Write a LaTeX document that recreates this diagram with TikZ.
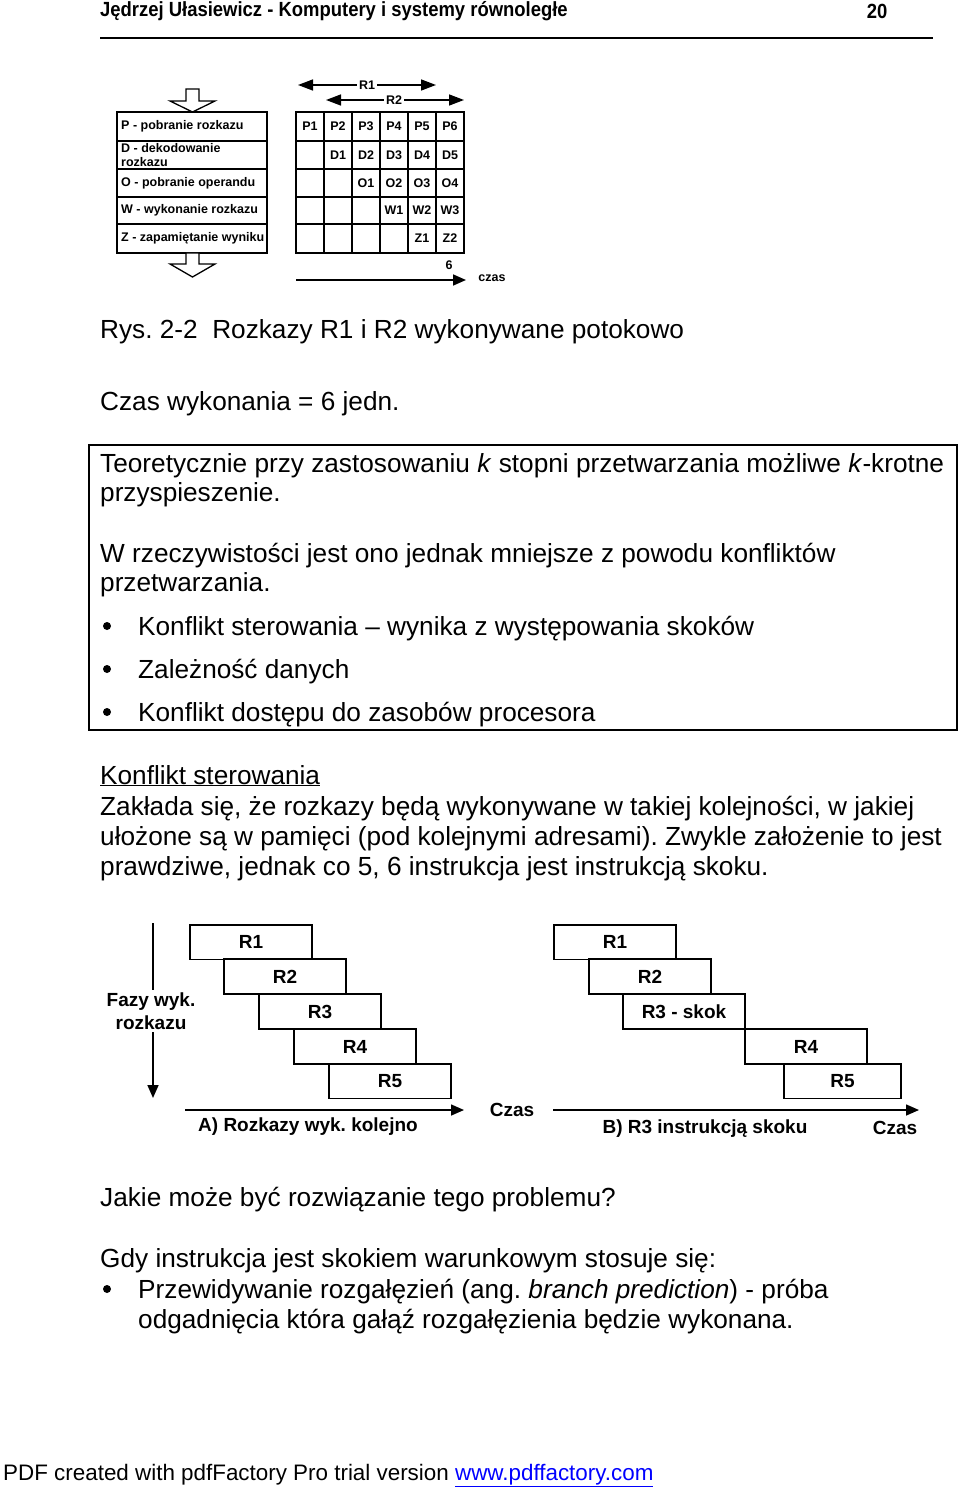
\documentclass[tikz,border=0pt]{standalone}
\usepackage{fontspec}
\usepackage{graphicx}
\setmainfont{Liberation Sans}
\usetikzlibrary{arrows.meta}
\frenchspacing
\begin{document}
\begin{tikzpicture}[x=1pt,y=-1pt,
  body/.style={anchor=base west, inner sep=0pt, font=\fontsize{26.2}{30}\selectfont},
  small/.style={inner sep=0pt, font=\bfseries\fontsize{12.5}{14}\selectfont},
  lab/.style={inner sep=0pt, font=\bfseries\fontsize{19}{22}\selectfont},
  gridline/.style={line width=1.8pt},
  pbox/.style={draw, line width=1.8pt, minimum width=122pt, minimum height=34.8pt, inner sep=0pt, font=\bfseries\fontsize{19}{22}\selectfont},
  tipline/.style={-{Triangle[length=13pt,width=11pt]}, line width=1.6pt},
  dtipline/.style={{Triangle[length=15pt,width=11pt]}-{Triangle[length=15pt,width=11pt]}, line width=1.5pt},
  bul/.style={circle, fill=black, inner sep=0pt, minimum size=8pt},
  hollow/.style={draw, line width=1.3pt, fill=white}
]
\useasboundingbox (0,0) rectangle (960,1487);

% ---------- header ----------
\node[anchor=west, inner sep=0pt, font=\bfseries\fontsize{20.5}{24}\selectfont] (hdr) at (100,11)
  {\scalebox{0.9}[1]{Jędrzej Ułasiewicz - Komputery i systemy równoległe}};
\node[inner sep=0pt, font=\bfseries\fontsize{20.5}{24}\selectfont] (pg) at (877,11) {\scalebox{0.9}[1]{20}};
\draw[line width=1.3pt] (100,38) -- (933,38);

% ---------- top figure: stage table ----------
\draw[gridline] (117,112) rectangle (267,253);
\foreach \yy in {141,169,197,224} \draw[gridline] (117,\yy) -- (267,\yy);
\node[small, anchor=west] (sP) at (121,126.5) {P - pobranie rozkazu};
\node[small, anchor=west, align=left, font=\bfseries\fontsize{12.5}{14}\selectfont] (sD) at (121,155) {D - dekodowanie\\rozkazu};
\node[small, anchor=west] (sO) at (121,183) {O - pobranie operandu};
\node[small, anchor=west] (sW) at (121,210.5) {W - wykonanie rozkazu};
\node[small, anchor=west] (sZ) at (121,238.5) {Z - zapamiętanie wyniku};

% hollow arrows
\draw[hollow] (186,89) -- (199,89) -- (199,101) -- (215,101) -- (192.5,112) -- (170,101) -- (186,101) -- cycle;
\draw[hollow] (186,253) -- (199,253) -- (199,264) -- (215,264) -- (192.5,277) -- (170,264) -- (186,264) -- cycle;

% grid
\draw[gridline] (296,112) rectangle (464,253);
\foreach \yy in {141,169,197,224} \draw[gridline] (296,\yy) -- (464,\yy);
\foreach \xx in {324,352,380,408,436} \draw[gridline] (\xx,112) -- (\xx,253);

\node[small] (c11) at (310,126.5) {P1};
\node[small] (c12) at (338,126.5) {P2};
\node[small] (c13) at (366,126.5) {P3};
\node[small] (c14) at (394,126.5) {P4};
\node[small] (c15) at (422,126.5) {P5};
\node[small] (c16) at (450,126.5) {P6};
\node[small] (c22) at (338,155) {D1};
\node[small] (c23) at (366,155) {D2};
\node[small] (c24) at (394,155) {D3};
\node[small] (c25) at (422,155) {D4};
\node[small] (c26) at (450,155) {D5};
\node[small] (c33) at (366,183) {O1};
\node[small] (c34) at (394,183) {O2};
\node[small] (c35) at (422,183) {O3};
\node[small] (c36) at (450,183) {O4};
\node[small] (c44) at (394,210.5) {W1};
\node[small] (c45) at (422,210.5) {W2};
\node[small] (c46) at (450,210.5) {W3};
\node[small] (c55) at (422,238.5) {Z1};
\node[small] (c56) at (450,238.5) {Z2};

% R1 / R2 spans
\coordinate (r1a) at (298,85);
\coordinate (r1b) at (436,85);
\coordinate (r2a) at (326,100);
\coordinate (r2b) at (464,100);
\draw[dtipline] (r1a) -- (r1b);
\draw[dtipline] (r2a) -- (r2b);
\node[small, fill=white, inner xsep=2pt, inner ysep=1pt] (lr1) at (367,85) {R1};
\node[small, fill=white, inner xsep=2pt, inner ysep=1pt] (lr2) at (394,100) {R2};

% time axis
\coordinate (ta) at (296,280);
\coordinate (tb) at (466,280);
\draw[tipline] (ta) -- (tb);
\node[small] (six) at (449,265) {6};
\node[small] (czas1) at (492,278) {czas};

% ---------- body text ----------
\node[body] (cap) at (100,338) {Rys. 2-2\ \ Rozkazy R1 i R2 wykonywane potokowo};
\node[body] (czw) at (100,410) {Czas wykonania = 6 jedn.};

\draw[line width=1.2pt] (89,445) rectangle (957,730);
\node[body] (t1) at (100,472) {Teoretycznie przy zastosowaniu \textit{k} stopni przetwarzania możliwe \textit{k}-krotne};
\node[body] (t2) at (100,501) {przyspieszenie.};
\node[body] (t3) at (100,562) {W rzeczywistości jest ono jednak mniejsze z powodu konfliktów};
\node[body] (t4) at (100,591) {przetwarzania.};
\node[bul] (b1) at (107,626) {};
\node[body] (t5) at (138,635) {Konflikt sterowania – wynika z występowania skoków};
\node[bul] (b2) at (107,669) {};
\node[body] (t6) at (138,678) {Zależność danych};
\node[bul] (b3) at (107,712) {};
\node[body] (t7) at (138,721) {Konflikt dostępu do zasobów procesora};

\node[body] (k0) at (100,784) {\underline{Konflikt sterowania}};
\node[body] (k1) at (100,815) {Zakłada się, że rozkazy będą wykonywane w takiej kolejności, w jakiej};
\node[body] (k2) at (100,845) {ułożone są w pamięci (pod kolejnymi adresami). Zwykle założenie to jest};
\node[body] (k3) at (100,875) {prawdziwe, jednak co 5, 6 instrukcja jest instrukcją skoku.};

% ---------- bottom figure A ----------
\coordinate (va) at (153,923);
\coordinate (vb) at (153,1098);
\draw[tipline] (va) -- (vb);
\node[lab, fill=white, align=center, inner ysep=3pt, font=\bfseries\fontsize{19}{23}\selectfont] (fazy) at (151,1011) {Fazy wyk.\\rozkazu};

\node[pbox] (a1) at (251,942) {R1};
\node[pbox] (a2) at (285,976.5) {R2};
\node[pbox] (a3) at (320,1011.5) {R3};
\node[pbox] (a4) at (355,1046.5) {R4};
\node[pbox] (a5) at (390,1081) {R5};

\coordinate (ha) at (185,1110);
\coordinate (hb) at (464,1110);
\draw[tipline] (ha) -- (hb);
\node[lab] (capA) at (308,1127) {A) Rozkazy wyk. kolejno};
\node[lab] (czasA) at (512,1110) {Czas};

% ---------- bottom figure B ----------
\node[pbox] (b1r) at (615,942) {R1};
\node[pbox] (b2r) at (650,976.5) {R2};
\node[pbox] (b3r) at (684,1011.5) {R3 - skok};
\node[pbox] (b4r) at (806,1046.5) {R4};
\node[pbox, minimum width=117pt] (b5r) at (842.5,1081) {R5};

\coordinate (hc) at (553,1110);
\coordinate (hd) at (919,1110);
\draw[tipline] (hc) -- (hd);
\node[lab] (capB) at (705,1129) {B) R3 instrukcją skoku};
\node[lab] (czasB) at (895,1128) {Czas};

% ---------- final text ----------
\node[body] (j1) at (100,1206) {Jakie może być rozwiązanie tego problemu?};
\node[body] (g1) at (100,1267) {Gdy instrukcja jest skokiem warunkowym stosuje się:};
\node[bul] (b4) at (107,1289) {};
\node[body] (g2) at (138,1298) {Przewidywanie rozgałęzień (ang. \textit{branch prediction}) - próba};
\node[body] (g3) at (138,1328) {odgadnięcia która gałąź rozgałęzienia będzie wykonana.};

% ---------- footer ----------
\node[anchor=base west, inner sep=0pt, font=\fontsize{22.4}{26}\selectfont] (foot) at (3,1480)
  {PDF created with pdfFactory Pro trial version {\color{blue}\underline{www.pdffactory.com}}};
\end{tikzpicture}
\end{document}
